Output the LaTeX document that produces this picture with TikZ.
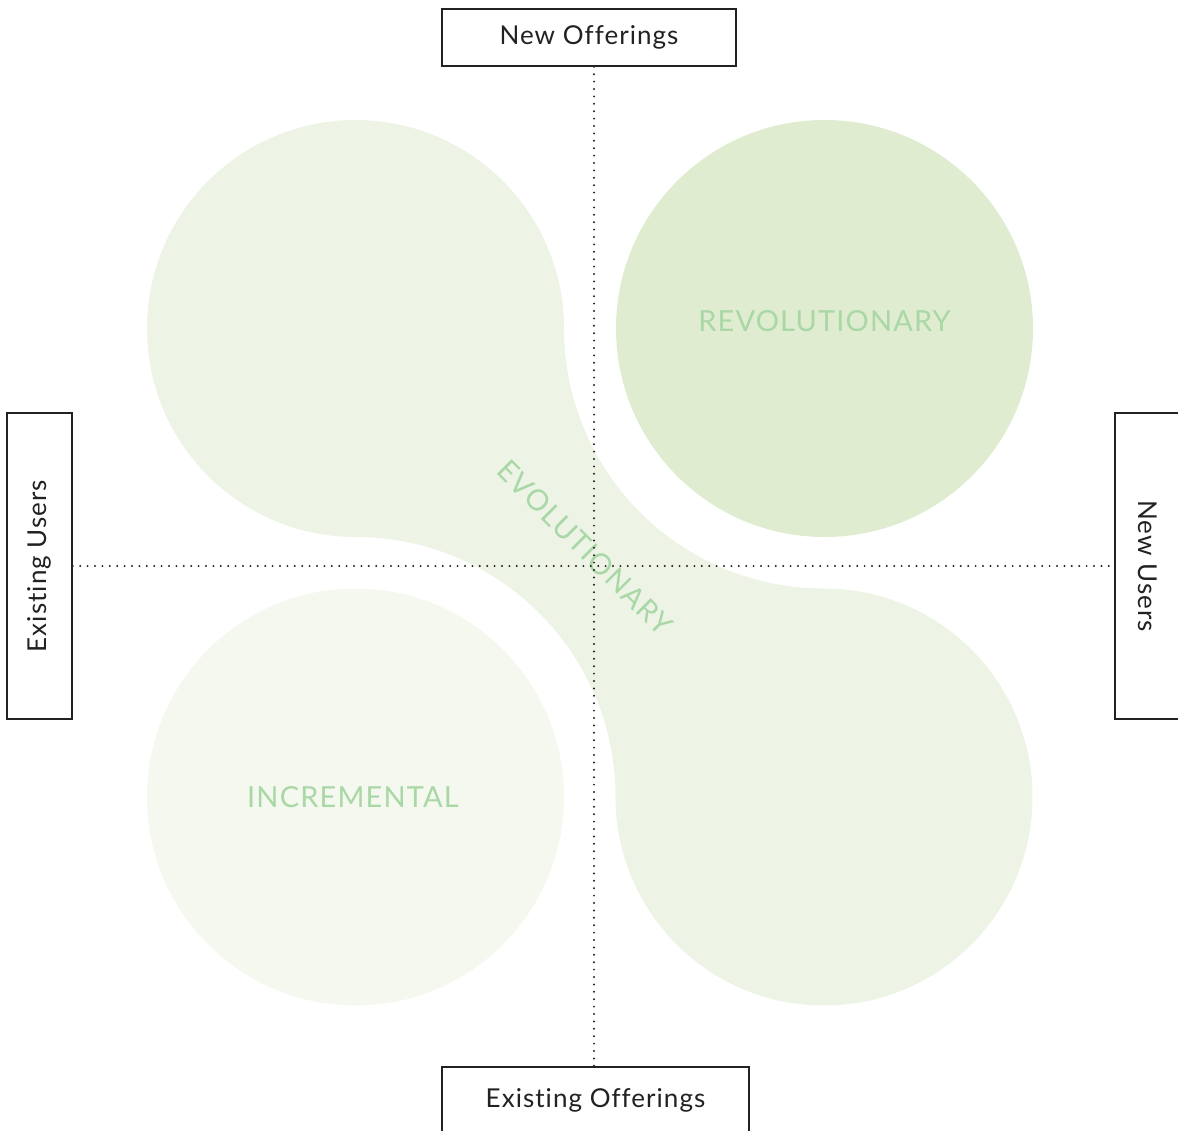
\documentclass[tikz,border=0pt]{standalone}
\usepackage{fontspec}
\setmainfont{Lato}[LetterSpace=4,Ligatures=NoCommon]
\usepackage{xcolor}
\usetikzlibrary{positioning}
\definecolor{evo}{HTML}{EDF3E5}
\definecolor{revo}{HTML}{DFECCF}
\definecolor{incr}{HTML}{F4F8EF}
\definecolor{leaf}{HTML}{A9D8A6}
\definecolor{ink}{HTML}{222222}

\begin{document}
\begin{tikzpicture}[
  x=1pt,y=-1pt,
  axisbox/.style={draw=ink,line width=1.6pt,fill=white,inner sep=0pt,font=\fontsize{26}{30}\selectfont,text=ink},
  axis/.style={draw=ink,line width=2.2pt,dash pattern=on 0pt off 7.4pt,line cap=round},
  zone/.style={text=leaf,font=\fontsize{29}{34}\selectfont},
]
\useasboundingbox (0,0) rectangle (1178,1130);

% --- blobs
\fill[incr] (355.5,797) circle[radius=208.5];
\fill[revo] (824.5,328.5) circle[radius=208.5];
\fill[evo] (564,328.5) arc[start angle=0,end angle=-270,radius=208.5]
  arc[start angle=-90,end angle=0,radius=260]
  arc[start angle=180,end angle=-90,radius=208.5]
  arc[start angle=90,end angle=180,radius=260] -- cycle;

% --- zone labels
\node[zone] (revlbl) at (824.5,321) {REVOLUTIONARY};
\node[zone] (inclbl) at (353,797) {INCREMENTAL};
\node[zone,rotate=-45] (evolbl) at (585,548) {EVOLUTIONARY};

% --- axis labels
\node[axisbox,minimum width=294,minimum height=57] (newoff) at (589,37.5) {New Offerings};
\node[axisbox,minimum width=307,minimum height=66] (exoff) at (595.5,1100) {Existing Offerings};
\node[axisbox,minimum width=306,minimum height=65,rotate=90] (exusr) at (39.5,566) {Existing Users};
\node[axisbox,minimum width=306,minimum height=66,rotate=-90] (newusr) at (1148,566) {New Users};

\coordinate (origin) at (594,566);
\draw[axis] (origin |- newoff.south) -- (origin |- exoff.north);
\draw[axis] (exusr.south |- origin) -- (newusr.south |- origin);
\end{tikzpicture}
\end{document}
